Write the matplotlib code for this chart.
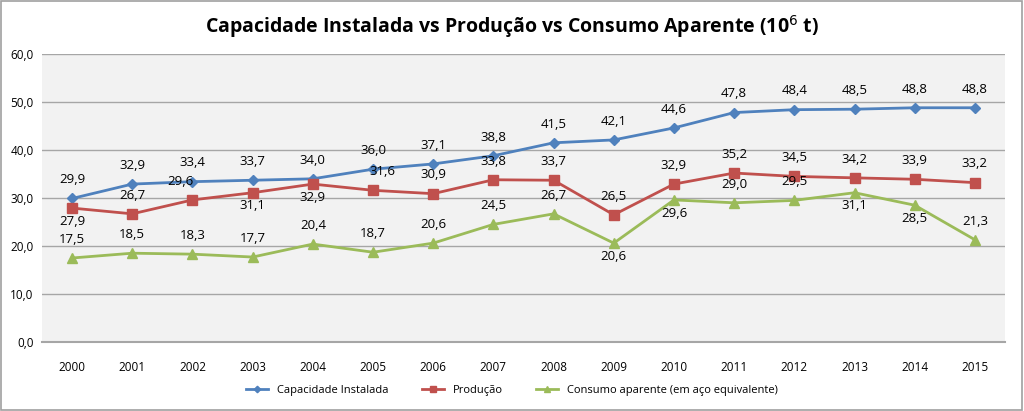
import matplotlib.pyplot as plt
from matplotlib.patches import Rectangle

anos = [str(a) for a in range(2000, 2016)]
capacidade = [29.9, 32.9, 33.4, 33.7, 34.0, 36.0, 37.1, 38.8, 41.5, 42.1, 44.6, 47.8, 48.4, 48.5, 48.8, 48.8]
producao = [27.9, 26.7, 29.6, 31.1, 32.9, 31.6, 30.9, 33.8, 33.7, 26.5, 32.9, 35.2, 34.5, 34.2, 33.9, 33.2]
consumo = [17.5, 18.5, 18.3, 17.7, 20.4, 18.7, 20.6, 24.5, 26.7, 20.6, 29.6, 29.0, 29.5, 31.1, 28.5, 21.3]

# onde fica o rótulo: 1 = acima, -1 = abaixo
pos_cap = [1] * 16
pos_prod = [-1, 1, 1, -1, -1, 1, 1, 1, 1, 1, 1, 1, 1, 1, 1, 1]
pos_cons = [1, 1, 1, 1, 1, 1, 1, 1, 1, -1, -1, 1, 1, -1, -1, 1]
# pequeno deslocamento horizontal de alguns rótulos (pontos)
dx_prod = [0, 0, -9, 0, 0, 7, 0, 0, 0, 0, 0, 0, 0, 0, 0, 0]

plt.rcParams['font.family'] = ['Open Sans', 'DejaVu Sans']

fig = plt.figure(figsize=(10.24, 4.11), dpi=100)
fig.patches.append(Rectangle((0.001, 0.002), 0.997, 0.995, transform=fig.transFigure,
                             fill=False, edgecolor='#A0A0A0', linewidth=1.2))
ax = fig.add_axes([42 / 1024, 1 - 342 / 411, 963 / 1024, 288 / 411])
ax.set_facecolor('#F2F2F2')

x = range(len(anos))
series = [
    (capacidade, pos_cap, [0] * 16, '#4F81BD', 'D', 5.5, 'Capacidade Instalada'),
    (producao, pos_prod, dx_prod, '#C0504D', 's', 7, 'Produção'),
    (consumo, pos_cons, [0] * 16, '#9BBB59', '^', 7.5, 'Consumo aparente (em aço equivalente)'),
]
for vals, lado, dx, cor, mk, ms, nome in series:
    ax.plot(x, vals, color=cor, marker=mk, markersize=ms, linewidth=2, label=nome)
    for i, v in enumerate(vals):
        dy = 13.5 if lado[i] > 0 else -9.5
        ax.annotate(f"{v:.1f}".replace('.', ','), (i, v), textcoords='offset points',
                    xytext=(dx[i], dy), ha='center', va='center',
                    fontsize=9.5, color='#000000')

ax.set_xlim(-0.5, 15.5)
ax.set_ylim(0, 60)
ax.set_yticks(range(0, 61, 10))
ax.set_yticklabels([f"{v:.1f}".replace('.', ',') for v in range(0, 61, 10)], fontsize=8.5)
ax.set_xticks(list(x))
ax.set_xticklabels(anos, fontsize=8.5)
ax.tick_params(length=0, pad=14)
ax.tick_params(axis='y', pad=6)
ax.yaxis.grid(True, color='#A6A6A6', linewidth=1)
ax.set_axisbelow(True)
for s in ['top', 'right', 'left']:
    ax.spines[s].set_visible(False)
ax.spines['bottom'].set_color('#A6A6A6')
ax.spines['bottom'].set_linewidth(1.5)

fig.text(0.5, 1 - 27 / 411, 'Capacidade Instalada vs Produção vs Consumo Aparente (10$^6$ t)',
         ha='center', va='center', fontsize=14, fontweight='bold')
fig.legend(loc='center', bbox_to_anchor=(0.5, 1 - 390 / 411), ncol=3, frameon=False,
           fontsize=8, handlelength=2, markerscale=0.6, columnspacing=3)

fig.savefig('out.png', dpi=100)
